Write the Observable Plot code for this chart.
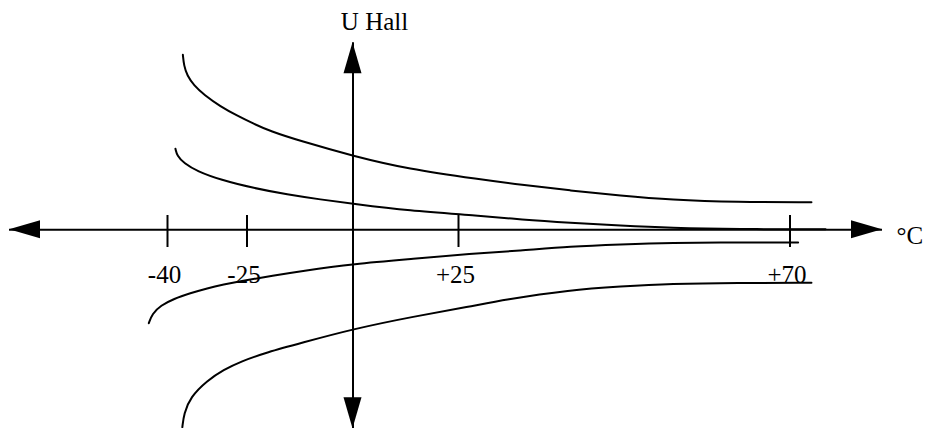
<!DOCTYPE html>
<html><head><meta charset="utf-8">
<script src="https://cdn.jsdelivr.net/npm/d3@7"></script>
<script src="https://cdn.jsdelivr.net/npm/@observablehq/plot@0.6"></script>
<style>html,body{margin:0;padding:0;background:#fff}</style>
</head><body><div id="chart"></div>
<script>
// Temperature (°C) and Hall voltage (arbitrary units) read from the schematic
const curve1T = [-37.1,-36.9,-36.3,-35.0,-33.1,-30.0,-26.9,-23.4,-19.5,-12.8,0.2,12.8,28,33.4,40.2,47,53.8,62.8,72.9];
const curve1U = [175,164.3,154.3,144.3,135,123.3,114.3,106,98.6,89.3,73.6,61,50.3,45,39.3,34.3,30,27.6,27.6];
const curve2T = [-38.5,-38.2,-36.9,-34.4,-30.0,-23.4,-15.5,-7.7,0.2,12.8,28,33.4,40.2,47,53.8,62.8,74.8];
const curve2U = [81,74.3,66.6,58.6,50,41.6,35.3,30.3,26,19.3,14,10.3,7,4.3,2,0.6,0.5];
const curve3T = [-43.55,-42.9,-41.3,-38.8,-35.7,-32.5,-29.4,-26.2,-18.7,-12.4,0.2,14.4,26.6,33.4,40.2,47,53.8,62.8,71.1];
const curve3U = [-93.4,-84,-75.7,-69,-63.4,-58.4,-54.7,-51.4,-45.7,-41.4,-34,-29,-24,-20.7,-16.7,-14.7,-13,-12.7,-12.7];
const curve4T = [-37.2,-36.9,-35.7,-32.5,-29.4,-26.2,-20.2,-12.4,0.2,14.4,26.6,31.1,40.2,47,53.8,62.8,72.9];
const curve4U = [-197.4,-184,-167.4,-150.7,-140,-131.7,-122.4,-113.4,-99,-86.7,-76.7,-70,-60,-56.7,-54,-53,-53];

const tickTemps = [-40, -25, 25, 70];
const tickLabels = ["-40", "-25", "+25", "+70"];
const xAxisEnds = [-70, 82.5];
const yAxisEnds = [-199, 187];
const xTitle = "°C";
const yTitle = "U Hall";

const curves = [];
[[curve1T, curve1U], [curve2T, curve2U], [curve3T, curve3U], [curve4T, curve4U]].forEach(([T, U], i) => {
  T.forEach((t, j) => curves.push({series: i, t, u: U[j]}));
});
const ticks = tickTemps.map((t, i) => ({t, label: tickLabels[i]}));

const font = "'Liberation Serif', 'Times New Roman', 'DejaVu Serif', serif";

const plot = Plot.plot({
  width: 925,
  height: 428,
  margin: 0,
  style: {fontFamily: font, background: "white"},
  x: {type: "linear", domain: [xAxisEnds[0], -40, -25, 0, 25, 70, xAxisEnds[1]],
      range: [9, 167, 246.5, 352.5, 458, 789.5, 882], axis: null},
  y: {type: "linear", domain: [-200, 200], range: [429.3, 29.3], axis: null},
  marks: [
    Plot.ruleY([0], {x1: xAxisEnds[0], x2: xAxisEnds[1], stroke: "black", strokeWidth: 2}),
    Plot.ruleX([0], {y1: yAxisEnds[0], y2: yAxisEnds[1], stroke: "black", strokeWidth: 2}),
    Plot.ruleX(ticks, {x: "t", y1: 14.3, y2: -17.7, stroke: "black", strokeWidth: 2}),
    Plot.line(curves, {x: "t", y: "u", z: "series", stroke: "black", strokeWidth: 2, curve: "basis"}),
    Plot.text(ticks, {x: "t", y: 0, text: "label", dy: 44.7, dx: -3, fontSize: 25, fontFamily: font, fill: "black"}),
    Plot.text([xTitle], {x: xAxisEnds[1], y: 0, text: d => d, textAnchor: "start", dx: 14, dy: 6, fontSize: 25, fontFamily: font, fill: "black"}),
    Plot.text([yTitle], {x: 0, y: yAxisEnds[1], text: d => d, dx: 21.5, dy: -21, fontSize: 25, fontFamily: font, fill: "black"})
  ]
});

// filled triangular arrowheads at the axis ends, placed through the plot's scales
const ns = "http://www.w3.org/2000/svg";
const sx = plot.scale("x"), sy = plot.scale("y");
const X = v => sx.apply(v), Y = v => sy.apply(v);
const headLen = 31, headHalf = 9;
const g = document.createElementNS(ns, "g");
g.setAttribute("aria-label", "arrowheads");
function head(tx, ty, dx, dy) {
  const bx = tx - dx * headLen, by = ty - dy * headLen;
  const px = -dy * headHalf, py = dx * headHalf;
  const p = document.createElementNS(ns, "path");
  p.setAttribute("d", `M${tx},${ty}L${bx + px},${by + py}L${bx - px},${by - py}Z`);
  p.setAttribute("fill", "black");
  g.appendChild(p);
}
head(X(xAxisEnds[0]), Y(0), -1, 0);
head(X(xAxisEnds[1]), Y(0), 1, 0);
head(X(0), Y(yAxisEnds[1]), 0, -1);
head(X(0), Y(yAxisEnds[0]), 0, 1);
plot.appendChild(g);

document.getElementById("chart").appendChild(plot);
</script>
</body></html>
